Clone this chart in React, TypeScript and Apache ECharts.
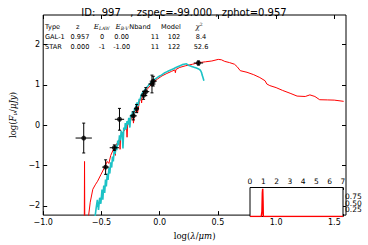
import React, { useEffect, useRef } from "react";
import * as echarts from "echarts";

// ---------- data ----------
const titleText = "ID:  997   , zspec=-99.000 , zphot=0.957";

const xTicks = [-1.0, -0.5, 0.0, 0.5, 1.0, 1.5];
const yTicks = [-2, -1, 0, 1, 2];
const insetXTicks = [0, 1, 2, 3, 4, 5, 6, 7];
const insetYTicks = [0.25, 0.5, 0.75];

// GAL-1 best-fit model: [log(lambda/um), log(Fnu/uJy)]
const galaxyModel: [number, number][] = [
  [-0.7, -3.0], [-0.648, -3.0], [-0.645, -0.9], [-0.642, -3.0], [-0.62, -3.0],
  [-0.61, -2.24], [-0.596, -1.91], [-0.574, -1.59], [-0.553, -1.48], [-0.533, -1.39],
  [-0.505, -1.23], [-0.477, -1.07], [-0.45, -0.9], [-0.436, -0.95], [-0.42, -0.75],
  [-0.4, -0.62], [-0.385, -0.55], [-0.38, -0.75], [-0.375, -0.5], [-0.36, -0.42],
  [-0.345, -0.35], [-0.34, -0.6], [-0.335, -0.3], [-0.32, -0.2], [-0.3, -0.12],
  [-0.285, -0.02], [-0.28, -0.3], [-0.275, 0.02], [-0.256, 0.05], [-0.24, 0.2],
  [-0.23, 0.25], [-0.225, 0.05], [-0.215, 0.31], [-0.2, 0.4], [-0.195, 0.45],
  [-0.19, 0.3], [-0.173, 0.59], [-0.16, 0.68], [-0.155, 0.55], [-0.15, 0.72],
  [-0.132, 0.79], [-0.11, 0.88], [-0.077, 0.99], [-0.05, 1.07], [-0.02, 1.14],
  [0.02, 1.22], [0.061, 1.28], [0.1, 1.33], [0.13, 1.37], [0.135, 1.3],
  [0.14, 1.38], [0.172, 1.43], [0.22, 1.47], [0.283, 1.51], [0.34, 1.55],
  [0.393, 1.57], [0.448, 1.59], [0.503, 1.63], [0.53, 1.62], [0.559, 1.58],
  [0.6, 1.55], [0.642, 1.51], [0.665, 1.45], [0.692, 1.35], [0.75, 1.31],
  [0.808, 1.25], [0.86, 1.18], [0.905, 1.1], [0.92, 1.02], [0.946, 0.98],
  [1.0, 0.93], [1.056, 0.86], [1.12, 0.79], [1.18, 0.72], [1.25, 0.71],
  [1.29, 0.75], [1.333, 0.71], [1.374, 0.63], [1.44, 0.625], [1.499, 0.62],
  [1.58, 0.59],
];

// STAR model
const starModel: [number, number][] = [
  [-0.56, -2.4], [-0.545, -2.05], [-0.535, -1.85], [-0.525, -2.1], [-0.515, -1.8],
  [-0.505, -1.95], [-0.495, -1.6], [-0.488, -1.85], [-0.48, -1.5], [-0.472, -1.68],
  [-0.465, -1.35], [-0.458, -1.52], [-0.45, -1.2], [-0.443, -1.36], [-0.435, -1.05],
  [-0.428, -1.2], [-0.42, -0.92], [-0.412, -1.05], [-0.405, -0.78], [-0.398, -0.9],
  [-0.39, -0.62], [-0.383, -0.72], [-0.375, -0.5], [-0.368, -0.62], [-0.36, -0.38],
  [-0.352, -0.5], [-0.345, -0.25], [-0.338, -0.38], [-0.33, -0.14], [-0.322, -0.22],
  [-0.315, -0.58], [-0.308, -0.06], [-0.3, -0.12], [-0.295, 0.05], [-0.288, -0.1],
  [-0.28, 0.1], [-0.272, 0.02], [-0.265, 0.18], [-0.256, -0.06], [-0.248, 0.26],
  [-0.24, 0.2], [-0.233, 0.34], [-0.225, 0.2], [-0.215, 0.42], [-0.208, 0.38],
  [-0.2, 0.52], [-0.193, 0.56], [-0.185, 0.48], [-0.175, 0.65], [-0.168, 0.62],
  [-0.16, 0.74], [-0.15, 0.79], [-0.14, 0.82], [-0.13, 0.87], [-0.12, 0.9],
  [-0.11, 0.94], [-0.1, 0.97], [-0.09, 1.01], [-0.08, 1.03], [-0.07, 1.07],
  [-0.05, 1.12], [-0.03, 1.16], [-0.015, 1.19], [0.0, 1.22], [0.015, 1.24],
  [0.03, 1.27], [0.045, 1.3], [0.06, 1.32], [0.075, 1.34], [0.09, 1.36],
  [0.105, 1.38], [0.12, 1.4], [0.135, 1.42], [0.15, 1.44], [0.165, 1.46],
  [0.18, 1.48], [0.195, 1.5], [0.21, 1.51], [0.23, 1.52], [0.24, 1.5],
  [0.25, 1.48], [0.26, 1.47], [0.27, 1.46], [0.28, 1.45], [0.29, 1.44],
  [0.3, 1.43], [0.31, 1.42], [0.32, 1.41], [0.33, 1.4], [0.34, 1.38],
  [0.35, 1.36], [0.36, 1.3], [0.365, 1.24], [0.37, 1.2], [0.375, 1.15],
  [0.38, 1.1],
];

// observed photometry
const obsX = [-0.652, -0.464, -0.389, -0.345, -0.226, -0.198, -0.138, -0.119, -0.066, -0.055, 0.333];
const obsY = [-0.32, -1.04, -0.56, 0.145, 0.23, 0.41, 0.74, 0.83, 1.02, 1.09, 1.54];
const obsXErr = [0.07, 0.03, 0.04, 0.04, 0.03, 0.02, 0.025, 0.03, 0.03, 0.03, 0.04];
const obsYErr = [0.37, 0.18, 0.07, 0.27, 0.1, 0.1, 0.1, 0.1, 0.22, 0.12, 0.05];

// photo-z probability distribution
const pdfZ = [0, 0.85, 0.9, 0.93, 0.957, 0.98, 1.0, 7];
const pdfP = [0, 0, 0.2, 0.9, 1.05, 0.6, 0, 0];

// fit table
const tableHeader = ["Type", "z", "{i|E}{s|LAW}", "{i|E}{s|B-V}", "Nband", "Model", "{g|χ}{p|2}"];
const tableGal = ["GAL-1", "0.957", "0", "0.00", "11", "102", "8.4"];
const tableStar = ["STAR", "0.000", "-1", "-1.00", "11", "122", "52.6"];

// ---------- layout ----------
const FONT = "DejaVu Sans";
const SERIF = "DejaVu Serif";
const minus = (s: string) => s.replace("-", "\u2212");

const headerX = [45, 77.7, 101.7, 122, 140, 171, 199];
const rowX = [45, 80, 102, 121.7, 155, 174, 201];
const rowsY = [26.7, 37, 47];

function buildTable() {
  const rich = {
    i: { fontFamily: SERIF, fontStyle: "italic", fontSize: 7, fill: "#000" },
    s: { fontFamily: SERIF, fontStyle: "italic", fontSize: 4.5, fill: "#000", padding: [3, 0, 0, 0] },
    g: { fontFamily: SERIF, fontStyle: "italic", fontSize: 7, fill: "#000" },
    p: { fontFamily: SERIF, fontSize: 4.5, fill: "#000", padding: [0, 0, 4, 0] },
  };
  const els: any[] = [];
  const rows = [tableHeader, tableGal, tableStar];
  rows.forEach((row, r) => {
    row.forEach((t, c) => {
      const xs = r === 0 ? headerX : rowX;
      els.push({
        type: "text",
        x: xs[c],
        y: rowsY[r],
        silent: true,
        style: {
          text: t,
          rich,
          fontSize: 6.6,
          fontFamily: FONT,
          fill: "#000",
          align: c === 0 ? "left" : "center",
          verticalAlign: "middle",
        },
      });
    });
  });
  return els;
}

const tickStyle = { inside: true, length: 4, lineStyle: { color: "#000", width: 1 } };
const noLine = { show: false, onZero: false };

export default function App() {
  const ref = useRef<HTMLDivElement>(null);
  useEffect(() => {
    if (!ref.current) return;
    const chart = echarts.init(ref.current, null, { renderer: "svg" });
    const obsData = obsX.map((x, i) => [x, obsY[i], obsXErr[i], obsYErr[i]]);
    const pdfData = pdfZ.map((z, i) => [z, pdfP[i]]);
    // one right-hand inset axis per tick label so that the crowded labels all stay visible
    const insetRightAxes = insetYTicks.map((v) => ({
      type: "value", gridIndex: 1, min: 0, max: 1.1, position: "right",
      axisLine: noLine, splitLine: { show: false },
      axisTick: { inside: true, length: 2.5, lineStyle: { color: "#000" }, customValues: [v] },
      axisLabel: {
        customValues: [v], fontSize: 7.5, fontFamily: FONT, color: "#000", margin: 2,
        formatter: (t: number) => t.toFixed(2),
      },
    }));
    const option: any = {
      animation: false,
      backgroundColor: "#fff",
      title: {
        text: titleText,
        left: "center",
        top: 2,
        textStyle: { fontSize: 10, fontWeight: "normal", fontFamily: FONT, color: "#000" },
      },
      grid: [
        { left: 29, top: 15, width: 317, height: 205, show: true, borderColor: "#000", borderWidth: 1, backgroundColor: "transparent" },
        { left: 250, top: 187.5, width: 93, height: 29, show: true, borderColor: "#000", borderWidth: 1, backgroundColor: "#fff", z: 5 },
      ],
      xAxis: [
        {
          type: "value", gridIndex: 0, min: -1, max: 1.6, position: "bottom",
          axisLine: noLine, splitLine: { show: false },
          axisTick: { ...tickStyle, customValues: xTicks },
          axisLabel: {
            customValues: xTicks, fontSize: 8, fontFamily: FONT, color: "#000", margin: 3,
            formatter: (v: number) => minus(v.toFixed(1)),
          },
          name: "{r|log(}{i|λ}{r|/}{i|μm}{r|)}",
          nameLocation: "middle", nameGap: 14,
          nameTextStyle: {
            rich: {
              r: { fontFamily: SERIF, fontSize: 8.5, color: "#000" },
              i: { fontFamily: SERIF, fontStyle: "italic", fontSize: 8.5, color: "#000" },
            },
          },
        },
        {
          type: "value", gridIndex: 0, min: -1, max: 1.6, position: "top",
          axisLine: noLine, splitLine: { show: false },
          axisTick: { ...tickStyle, customValues: xTicks },
          axisLabel: { show: false },
        },
        {
          type: "value", gridIndex: 1, min: 0, max: 7, position: "top",
          axisLine: noLine, splitLine: { show: false },
          axisTick: { inside: true, length: 2.5, lineStyle: { color: "#000" }, customValues: insetXTicks },
          axisLabel: { customValues: insetXTicks, fontSize: 7.5, fontFamily: FONT, color: "#000", margin: 2 },
        },
        {
          type: "value", gridIndex: 1, min: 0, max: 7, position: "bottom",
          axisLine: noLine, splitLine: { show: false },
          axisTick: { inside: true, length: 2.5, lineStyle: { color: "#000" }, customValues: insetXTicks },
          axisLabel: { show: false },
        },
      ],
      yAxis: [
        {
          type: "value", gridIndex: 0, min: -2.23, max: 2.73, position: "left",
          axisLine: noLine, splitLine: { show: false },
          axisTick: { ...tickStyle, customValues: yTicks },
          axisLabel: {
            customValues: yTicks, fontSize: 8, fontFamily: FONT, color: "#000", margin: 3,
            formatter: (v: number) => minus(String(v)),
          },
          name: "{r|log(}{i|F}{s|ν}{r|/}{i|μJy}{r|)}",
          nameLocation: "middle", nameGap: 22, nameRotate: 90,
          nameTextStyle: {
            rich: {
              r: { fontFamily: SERIF, fontSize: 8.5, color: "#000" },
              i: { fontFamily: SERIF, fontStyle: "italic", fontSize: 8.5, color: "#000" },
              s: { fontFamily: SERIF, fontStyle: "italic", fontSize: 6, color: "#000", padding: [4, 0, 0, 0] },
            },
          },
        },
        {
          type: "value", gridIndex: 0, min: -2.23, max: 2.73, position: "right",
          axisLine: noLine, splitLine: { show: false },
          axisTick: { ...tickStyle, customValues: yTicks },
          axisLabel: { show: false },
        },
        {
          type: "value", gridIndex: 1, min: 0, max: 1.1, position: "left",
          axisLine: noLine, splitLine: { show: false },
          axisTick: { inside: true, length: 2.5, lineStyle: { color: "#000" }, customValues: insetYTicks },
          axisLabel: { show: false },
        },
        ...insetRightAxes,
      ],
      series: [
        {
          type: "line", xAxisIndex: 0, yAxisIndex: 0, data: galaxyModel,
          showSymbol: false, lineStyle: { color: "#ff0000", width: 1 }, z: 2, silent: true,
        },
        {
          type: "line", xAxisIndex: 0, yAxisIndex: 0, data: starModel,
          showSymbol: false, lineStyle: { color: "#1cc2c6", width: 1.6 }, z: 3, silent: true,
        },
        {
          type: "custom", xAxisIndex: 0, yAxisIndex: 0, data: obsData, z: 4, silent: true,
          renderItem: (_p: any, api: any) => {
            const x = api.value(0), y = api.value(1), xe = api.value(2), ye = api.value(3);
            const a = api.coord([x - xe, y]), b = api.coord([x + xe, y]);
            const c = api.coord([x, y - ye]), d = api.coord([x, y + ye]);
            const st = { stroke: "#000", lineWidth: 1 };
            return {
              type: "group",
              children: [
                { type: "line", shape: { x1: a[0], y1: a[1], x2: b[0], y2: b[1] }, style: st },
                { type: "line", shape: { x1: c[0], y1: c[1], x2: d[0], y2: d[1] }, style: st },
                { type: "line", shape: { x1: c[0] - 1.5, y1: c[1], x2: c[0] + 1.5, y2: c[1] }, style: st },
                { type: "line", shape: { x1: d[0] - 1.5, y1: d[1], x2: d[0] + 1.5, y2: d[1] }, style: st },
              ],
            };
          },
        },
        {
          type: "scatter", xAxisIndex: 0, yAxisIndex: 0,
          data: obsX.map((x, i) => [x, obsY[i]]),
          symbol: "circle", symbolSize: 5, itemStyle: { color: "#000" }, z: 5, silent: true,
        },
        {
          type: "line", xAxisIndex: 2, yAxisIndex: 2, data: pdfData,
          showSymbol: false, lineStyle: { color: "#ff0000", width: 1.5 }, z: 6, silent: true,
        },
      ],
      graphic: buildTable(),
    };
    chart.setOption(option);
    return () => chart.dispose();
  }, []);
  return <div ref={ref} style={{ position: "fixed", left: 0, top: 0, width: 368, height: 245 }} />;
}
